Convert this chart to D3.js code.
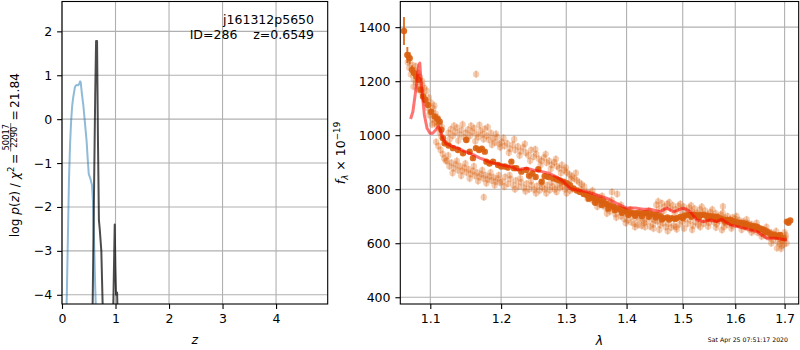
<!DOCTYPE html>
<html>
<head>
<meta charset="utf-8">
<script src="https://cdn.jsdelivr.net/npm/d3@7"></script>
<style>
body { margin: 0; background: #fff; }
svg { font-family: "DejaVu Sans", sans-serif; }
</style>
</head>
<body>
<svg id="chart" width="800" height="350"></svg>
<script>
// ---- left panel: log p(z)
const pzTicksX = [0, 1, 2, 3, 4];
const pzTicksY = [2, 1, 0, -1, -2, -3, -4];
const priorZ = [0.07, 0.09, 0.11, 0.13, 0.15, 0.17, 0.19, 0.21, 0.24, 0.26, 0.28, 0.30, 0.32, 0.34, 0.35, 0.37, 0.40, 0.43, 0.46, 0.48, 0.50, 0.53, 0.56, 0.58, 0.60, 0.62, 0.64];
const priorLogP = [-5.0, -4.0, -2.7, -1.4, -0.6, -0.05, 0.3, 0.5, 0.72, 0.77, 0.78, 0.77, 0.8, 0.86, 0.84, 0.6, 0.3, -0.1, -0.5, -0.9, -1.25, -1.35, -1.5, -1.9, -2.8, -3.8, -4.6];
const fitZ = [0.55, 0.575, 0.60, 0.62, 0.637, 0.655, 0.672, 0.69, 0.705, 0.735, 0.765, 0.80, 0.92, 0.955, 0.985, 0.998, 1.01, 1.03, 1.045, 1.08];
const fitLogP = [-6, -4.0, -1.5, 0.5, 1.78, 1.78, -0.5, -2.3, -2.5, -3.0, -4.5, -8, -8, -4.5, -2.4, -3.4, -4.0, -3.95, -4.8, -8];
const objName = "j161312p5650";
const objInfo = "ID=286\u00a0\u00a0\u00a0\u00a0z=0.6549";

// ---- right panel: spectrum
const specTicksX = [1.1, 1.2, 1.3, 1.4, 1.5, 1.6, 1.7];
const specTicksY = [400, 600, 800, 1000, 1200, 1400];
const lightErr = 14;
const lightSpec = [
  [1.070,1270],[1.072,1250],[1.074,1225],[1.076,1260],[1.078,1205],[1.079,1240],[1.081,1195],[1.083,1230],[1.085,1180],[1.086,1215],
  [1.088,1160],[1.089,1200],[1.091,1150],[1.092,1175],[1.094,1120],[1.095,1165],[1.097,1100],[1.098,1140],[1.100,1085],[1.101,1120],
  [1.103,1060],[1.104,1100],[1.106,1045],[1.107,1080],[1.109,1035],[1.110,1065],[1.112,1040],[1.113,1010],[1.115,995],[1.116,1030],
  [1.108,975],[1.111,960],[1.114,945],[1.117,930],[1.119,915],[1.121,905],
  [1.0715,1290],[1.0775,1180],[1.0805,1255],[1.0835,1170],[1.0895,1185],[1.0925,1130],[1.0985,1075],[1.1025,1040],[1.1055,1110],[1.1085,1050],
  [1.125,1008],[1.128,1022],[1.131,998],[1.134,1012],[1.137,1028],[1.140,1003],[1.143,1018],[1.146,993],[1.149,1008],[1.152,1020],
  [1.155,998],[1.158,1013],[1.161,1026],[1.164,1003],[1.167,993],[1.170,1016],[1.173,1003],[1.176,1023],[1.179,998],[1.182,983],
  [1.185,1008],[1.188,988],[1.191,973],[1.194,993],[1.197,968],
  [1.1265,985],[1.1325,1035],[1.1385,980],[1.1445,1040],[1.1505,985],[1.1565,1035],[1.1625,978],[1.1685,1038],[1.1745,985],[1.1805,1030],
  [1.1865,965],[1.1925,1005],[1.1985,955],
  [1.123,905],[1.126,885],[1.129,898],[1.132,878],[1.135,892],[1.138,870],[1.141,885],[1.144,868],[1.147,880],[1.150,862],
  [1.153,874],[1.156,856],[1.159,868],[1.162,850],[1.165,862],[1.168,845],[1.171,856],[1.174,840],[1.177,852],[1.180,836],
  [1.183,848],[1.186,832],[1.189,844],[1.192,828],[1.195,840],[1.198,825],
  [1.1245,925],[1.1305,860],[1.1365,905],[1.1425,850],[1.1485,895],[1.1545,840],[1.1605,885],[1.1665,830],[1.1725,870],[1.1785,822],
  [1.1845,862],[1.1905,815],[1.1965,852],
  [1.1637,1226],[1.1747,770],
  [1.201,975],[1.205,960],[1.209,970],[1.213,950],[1.217,965],[1.221,945],[1.225,958],[1.229,940],[1.233,955],[1.237,935],
  [1.241,925],[1.245,945],[1.249,920],[1.253,930],[1.257,912],[1.261,905],[1.265,918],[1.269,898],[1.273,905],[1.277,890],
  [1.281,900],[1.285,885],[1.289,878],[1.293,890],[1.297,870],[1.301,862],[1.305,855],[1.309,848],[1.313,840],[1.317,832],
  [1.321,825],[1.325,818],[1.329,810],
  [1.2035,990],[1.2115,935],[1.2195,985],[1.2275,925],[1.2355,968],[1.2435,905],[1.2515,948],[1.2595,890],[1.2675,930],[1.2755,875],
  [1.2835,912],[1.2915,860],[1.2995,880],[1.3075,838],[1.3155,860],[1.3235,800],
  [1.202,828],[1.206,845],[1.210,820],[1.214,838],[1.218,815],[1.222,832],[1.226,810],[1.230,826],[1.234,805],[1.238,820],
  [1.242,800],[1.246,815],[1.250,798],[1.254,812],[1.258,795],[1.262,808],[1.266,800],[1.270,815],[1.274,797],[1.278,810],
  [1.282,800],[1.286,815],[1.290,805],[1.294,812],[1.298,800],[1.302,808],[1.306,795],[1.310,802],
  [1.2045,810],[1.2125,852],[1.2205,800],[1.2285,840],[1.2365,792],[1.2445,830],[1.2525,785],[1.2605,822],[1.2685,785],[1.2765,825],
  [1.2845,790],[1.2925,825],[1.3005,785],
  [1.333,790],[1.336,770],[1.339,785],[1.342,760],[1.345,778],[1.348,752],[1.351,770],[1.354,745],[1.357,762],[1.360,738],
  [1.363,755],[1.366,728],[1.369,745],[1.372,718],[1.375,790],[1.378,735],[1.381,708],[1.384,782],[1.387,725],[1.390,700],
  [1.393,718],[1.396,690],[1.399,712],[1.402,685],[1.405,705],[1.408,678],[1.411,700],[1.414,672],[1.417,695],[1.420,668],
  [1.423,690],[1.426,665],[1.429,685],[1.432,660],[1.435,680],[1.438,700],[1.441,662],[1.444,690],[1.447,655],[1.450,685],
  [1.3345,765],[1.3425,795],[1.3505,735],[1.3585,775],[1.3665,710],[1.3745,760],[1.3825,695],[1.3905,742],[1.3985,675],[1.4065,725],
  [1.4145,660],[1.4225,715],[1.4305,675],[1.4385,720],[1.4465,670],
  [1.452,742],[1.457,728],[1.462,748],[1.467,735],[1.472,745],[1.477,730],[1.482,740],[1.487,725],[1.492,738],[1.497,722],
  [1.502,735],[1.507,720],[1.512,732],[1.517,718],[1.522,728],[1.527,712],[1.532,725],[1.537,710],[1.542,720],[1.547,706],
  [1.552,715],[1.557,700],[1.562,710],[1.567,696],[1.572,705],[1.576,736],[1.580,694],[1.585,700],[1.590,688],[1.595,695],
  [1.454,682],[1.459,668],[1.464,675],[1.469,660],[1.474,672],[1.479,658],[1.484,666],[1.489,652],[1.494,670],[1.499,680],
  [1.504,690],[1.509,672],[1.514,685],[1.519,665],[1.524,678],[1.529,668],[1.534,682],[1.539,672],[1.544,685],[1.549,676],
  [1.554,688],[1.559,678],[1.564,670],[1.569,682],[1.574,649],[1.579,675],[1.584,668],[1.589,678],[1.594,665],
  [1.4555,755],[1.4655,720],[1.4755,752],[1.4855,710],[1.4955,745],[1.5055,705],[1.5155,740],[1.5255,700],[1.5355,735],[1.5455,695],
  [1.5555,725],[1.5655,688],[1.5755,712],[1.5855,680],[1.4575,650],[1.4725,645],[1.4875,660],[1.5025,655],[1.5175,650],[1.5325,660],
  [1.5475,662],[1.5625,658],[1.5775,660],[1.5925,655],
  [1.600,690],[1.604,672],[1.608,685],[1.612,665],[1.616,680],[1.620,660],[1.624,675],[1.628,652],[1.632,670],[1.636,648],
  [1.640,662],[1.644,640],[1.648,655],[1.652,636],[1.656,650],[1.660,628],[1.664,645],[1.668,620],[1.672,640],[1.676,612],
  [1.680,632],[1.684,582],[1.686,605],[1.688,625],[1.690,598],[1.692,615],[1.694,590],[1.696,610],[1.698,595],[1.700,640],
  [1.702,620],[1.704,600],
  [1.6025,700],[1.6125,650],[1.6225,688],[1.6325,640],[1.6425,675],[1.6525,625],[1.6625,660],[1.6725,600],[1.6825,645],[1.6925,580],
  [1.7025,630]
];
// binned spectrum: [wave, flux, err]
const darkSpec = [
  [1.065,1386,52],[1.0694,1297,30],[1.0725,1285,22],[1.0755,1242,16],[1.0782,1230,12],[1.0813,1217,10],[1.0844,1205,10],[1.0871,1168,9],
  [1.0902,1143,9],[1.0933,1131,8],[1.0969,1112,8],[1.1013,1087,8],[1.1060,1069,8],[1.1100,1060,8],[1.1128,1050,8],[1.1150,1020,8],
  [1.1173,989,8],[1.1196,970,8],[1.1250,962,7],[1.1311,952,7],[1.1380,945,7],[1.1451,933,7],[1.1497,982,7],[1.1545,939,7],
  [1.1592,915,7],[1.1635,952,7],[1.1680,945,7],[1.1720,950,7],[1.1762,939,7],[1.1785,902,7],[1.1830,895,7],[1.1882,902,7],
  [1.1955,890,7],[1.2000,884,7],[1.2054,884,7],[1.2100,880,7],[1.2152,902,7],[1.2190,878,7],[1.2227,878,7],[1.2302,865,7],
  [1.2378,871,7],[1.2420,850,7],[1.2470,858,7],[1.2520,845,7],[1.2562,874,7],[1.2614,828,7],[1.2660,848,7],[1.2720,845,7],
  [1.2798,840,7],[1.2850,836,7],[1.2900,832,7],[1.2956,828,7],[1.3010,822,7],[1.3060,815,7],[1.3116,803,7],[1.3170,795,7],
  [1.3220,790,7],[1.3280,782,7],[1.3334,779,7],[1.3390,772,7],[1.3442,767,7],[1.3500,762,7],[1.3550,758,7],[1.3609,754,7],
  [1.3660,745,7],[1.3720,740,7],[1.3777,735,7],[1.3830,730,7],[1.3890,726,7],[1.3947,723,7],[1.4000,718,7],[1.4060,714,7],
  [1.4120,711,7],[1.4180,712,7],[1.4240,710,7],[1.4300,711,7],[1.4354,711,7],[1.4420,709,7],[1.4480,706,7],[1.4531,705,7],
  [1.4600,700,7],[1.4650,693,7],[1.4720,695,7],[1.4800,693,7],[1.4893,693,7],[1.4960,698,7],[1.5030,702,7],[1.5100,705,7],
  [1.5139,705,7],[1.5200,706,7],[1.5260,705,7],[1.5330,704,7],[1.5388,705,7],[1.5450,702,7],[1.5520,700,7],[1.5580,698,7],
  [1.5644,698,7],[1.5710,692,7],[1.5770,688,7],[1.5840,686,7],[1.5902,686,7],[1.5960,682,7],[1.6030,678,7],[1.6100,676,7],
  [1.6164,674,7],[1.6230,670,7],[1.6300,666,7],[1.6370,663,7],[1.6432,661,7],[1.6500,655,7],[1.6570,650,7],[1.6640,643,7],
  [1.6700,636,7],[1.6780,632,7],[1.6850,628,7],[1.6909,631,7],[1.6978,618,7],[1.7049,680,7],[1.7080,676,7],[1.7118,684,7],
  [1.3365,765,7],[1.3470,750,7],[1.3580,742,7],[1.3690,728,7],[1.3800,722,7],[1.3920,712,7],[1.4030,705,7],[1.4150,702,7],
  [1.4270,700,7],[1.4390,698,7],[1.4510,695,7],[1.4620,688,7],[1.4750,688,7],[1.4860,690,7],[1.5000,693,7],[1.5160,698,7],
  [1.5300,696,7],[1.5480,692,7],[1.5620,688,7],[1.5800,680,7],[1.5930,676,7],[1.6060,670,7],[1.6200,664,7],[1.6340,657,7],
  [1.6470,650,7],[1.6600,640,7],[1.6730,628,7],[1.6830,625,7]
];
const modelSpec = [
  [1.0737,1060],[1.0767,1087],[1.0797,1149],[1.0824,1211],[1.0846,1260],[1.0859,1267],[1.0876,1199],[1.0898,1137],[1.0920,1075],
  [1.0956,1026],[1.0996,1007],[1.1032,1007],[1.1077,1020],[1.1109,1032],[1.1136,1020],[1.1168,989],[1.1212,970],[1.1290,960],
  [1.1380,952],[1.1460,942],[1.1545,933],[1.1620,925],[1.1690,915],[1.1750,910],[1.1810,902],[1.1900,896],[1.2000,890],
  [1.2080,886],[1.2150,884],[1.2250,871],[1.2320,876],[1.2380,878],[1.2480,871],[1.2600,866],[1.2730,859],[1.2850,845],
  [1.2960,828],[1.3060,803],[1.3170,797],[1.3330,791],[1.3490,779],[1.3660,767],[1.3830,748],[1.4000,730],[1.4170,730],
  [1.4290,726],[1.4413,726],[1.4591,717],[1.4711,730],[1.4831,717],[1.5014,730],[1.5139,717],[1.5264,686],[1.5388,680],
  [1.5516,686],[1.5644,680],[1.5741,689],[1.5902,668],[1.6164,656],[1.6432,643],[1.6635,618],[1.6841,618],[1.7049,612]
];
const stamp = "Sat Apr 25 07:51:17 2020";

const svg = d3.select("#chart");
const fs = 12.5;
const gridColor = "#b0b0b0";
const orange = "#d95f0e";

const L = {x0: 62, x1: 327.7, y0: 1.5, y1: 304};
const R = {x0: 400.3, x1: 798.7, y0: 1.5, y1: 304};

let xZ = d3.scaleLinear().domain([0, 4.965]).range([L.x0, L.x1]);
let yZ = d3.scaleLinear().domain([-4.21, 2.68]).range([L.y1, L.y0]);
let xW = d3.scaleLog().domain([1.0602, 1.7297]).range([R.x0, R.x1]);
let yF = d3.scaleLinear().domain([375, 1495]).range([R.y1, R.y0]);

function clip(id, b) {
    svg.append("clipPath").attr("id", id)
        .append("rect").attr("x", b.x0).attr("y", b.y0)
        .attr("width", b.x1 - b.x0).attr("height", b.y1 - b.y0);
}
clip("clipL", L);
clip("clipR", R);

function grid(b, xs, ys, tx, ty) {
    let g = svg.append("g").attr("stroke", gridColor).attr("stroke-width", 1.1);
    g.selectAll(".gx").data(tx).enter().append("line")
        .attr("x1", (d) => xs(d)).attr("x2", (d) => xs(d))
        .attr("y1", b.y0).attr("y2", b.y1);
    g.selectAll(".gy").data(ty).enter().append("line")
        .attr("y1", (d) => ys(d)).attr("y2", (d) => ys(d))
        .attr("x1", b.x0).attr("x2", b.x1);
}
grid(L, xZ, yZ, pzTicksX, pzTicksY);
grid(R, xW, yF, specTicksX, specTicksY);

function axes(b, xs, ys, tx, ty, fx, fy) {
    let ax = svg.append("g").attr("transform", `translate(0,${b.y1})`)
        .call(d3.axisBottom(xs).tickValues(tx).tickFormat(fx).tickSize(4.9).tickPadding(4.9));
    let ay = svg.append("g").attr("transform", `translate(${b.x0},0)`)
        .call(d3.axisLeft(ys).tickValues(ty).tickFormat(fy).tickSize(4.9).tickPadding(4.9));
    [ax, ay].forEach(function(a) {
        a.attr("font-size", fs).attr("font-family", "DejaVu Sans");
        a.select(".domain").remove();
        a.selectAll(".tick line").attr("stroke", "#000").attr("stroke-width", 1.1);
        a.selectAll(".tick text").attr("fill", "#000");
    });
}
axes(L, xZ, yZ, pzTicksX, pzTicksY, d3.format("d"), d3.format("d"));
axes(R, xW, yF, specTicksX, specTicksY, d3.format(".1f"), d3.format("d"));

// p(z) curves
let lineZ = d3.line().x((d) => xZ(d[0])).y((d) => yZ(d[1]));
let gL = svg.append("g").attr("clip-path", "url(#clipL)");
gL.append("path").datum(priorZ.map((z, i) => [z, priorLogP[i]]))
    .attr("d", lineZ).attr("fill", "none")
    .attr("stroke", "#1f77b4").attr("stroke-opacity", 0.5).attr("stroke-width", 2)
    .attr("stroke-linejoin", "round");
gL.append("path").datum(fitZ.map((z, i) => [z, fitLogP[i]]))
    .attr("d", lineZ).attr("fill", "none")
    .attr("stroke", "#000").attr("stroke-opacity", 0.7).attr("stroke-width", 2)
    .attr("stroke-linejoin", "round");

// spectrum
let gR = svg.append("g").attr("clip-path", "url(#clipR)");
gR.selectAll("line.light").data(lightSpec).enter().append("line")
    .attr("class", "light")
    .attr("x1", (d) => xW(d[0])).attr("x2", (d) => xW(d[0]))
    .attr("y1", (d) => yF(d[1] - lightErr)).attr("y2", (d) => yF(d[1] + lightErr))
    .attr("stroke", orange).attr("stroke-opacity", 0.28).attr("stroke-width", 1.5);
gR.selectAll("circle.light").data(lightSpec).enter().append("circle")
    .attr("class", "light")
    .attr("cx", (d) => xW(d[0])).attr("cy", (d) => yF(d[1])).attr("r", 3.2)
    .attr("fill", orange).attr("fill-opacity", 0.3);

gR.selectAll("line.dark").data(darkSpec).enter().append("line")
    .attr("class", "dark")
    .attr("x1", (d) => xW(d[0])).attr("x2", (d) => xW(d[0]))
    .attr("y1", (d) => yF(d[1] - d[2])).attr("y2", (d) => yF(d[1] + d[2]))
    .attr("stroke", orange).attr("stroke-opacity", 0.85).attr("stroke-width", 2);
gR.selectAll("circle.dark").data(darkSpec).enter().append("circle")
    .attr("class", "dark")
    .attr("cx", (d) => xW(d[0])).attr("cy", (d) => yF(d[1])).attr("r", 3.2)
    .attr("fill", orange).attr("fill-opacity", 0.9);

gR.append("path").datum(modelSpec)
    .attr("d", d3.line().x((d) => xW(d[0])).y((d) => yF(d[1])))
    .attr("fill", "none").attr("stroke", "red").attr("stroke-opacity", 0.55)
    .attr("stroke-width", 3).attr("stroke-linejoin", "round");

// spines
[L, R].forEach(function(b) {
    svg.append("rect").attr("x", b.x0).attr("y", b.y0)
        .attr("width", b.x1 - b.x0).attr("height", b.y1 - b.y0)
        .attr("fill", "none").attr("stroke", "#000").attr("stroke-width", 1.1);
});

// annotations
svg.append("text").attr("x", 314).attr("y", 23.5).attr("text-anchor", "end")
    .attr("font-size", fs).text(objName);
svg.append("text").attr("x", 314).attr("y", 39).attr("text-anchor", "end")
    .attr("font-size", fs).text(objInfo);

// x labels
svg.append("text").attr("x", (L.x0 + L.x1) / 2).attr("y", 344).attr("text-anchor", "middle")
    .attr("font-size", fs).attr("font-style", "italic").text("z");
svg.append("text").attr("x", (R.x0 + R.x1) / 2).attr("y", 345).attr("text-anchor", "middle")
    .attr("font-size", fs).attr("font-style", "italic").text("λ");

// left y label with fraction
let yl = svg.append("g").attr("transform", "translate(18.5,155) rotate(-90)");
let inner = yl.append("g");
let t1 = inner.append("text").attr("font-size", 12.2);
t1.append("tspan").text("log ");
t1.append("tspan").attr("font-style", "italic").text("p");
t1.append("tspan").text("(");
t1.append("tspan").attr("font-style", "italic").text("z");
t1.append("tspan").text(") / ");
t1.append("tspan").attr("font-style", "italic").text("χ");
t1.append("tspan").attr("font-size", 8.6).attr("dy", -5).text("2");
t1.append("tspan").attr("dy", 5).text("\u2009=\u2009");
let num = inner.append("text").attr("font-size", 8.3).attr("text-anchor", "middle").attr("y", -9.3).text("50017");
let den = inner.append("text").attr("font-size", 8.3).attr("text-anchor", "middle").attr("y", -1.6).text("2290");
let t2 = inner.append("text").attr("font-size", 12.2).text("\u2009=\u200921.84");
let w1 = t1.node().getBBox().width;
let wf = Math.max(num.node().getBBox().width, den.node().getBBox().width) + 2;
t1.attr("x", 0);
num.attr("x", w1 + wf / 2);
den.attr("x", w1 + wf / 2);
inner.append("line").attr("x1", w1).attr("x2", w1 + wf)
    .attr("y1", -7.8).attr("y2", -7.8).attr("stroke", "#000").attr("stroke-width", 0.6);
t2.attr("x", w1 + wf);
let bb = inner.node().getBBox();
let sc = Math.min(1, 186 / bb.width);
inner.attr("transform", `scale(${sc}) translate(${-(bb.x + bb.width / 2)},0)`);

// right y label
let yr = svg.append("g").attr("transform", "translate(345,153) rotate(-90)");
let t3 = yr.append("text").attr("font-size", fs).attr("text-anchor", "middle");
t3.append("tspan").attr("font-style", "italic").text("f");
t3.append("tspan").attr("font-size", 8.8).attr("font-style", "italic").attr("dy", 2.5).text("λ");
t3.append("tspan").attr("dy", -2.5).text("\u00a0×\u00a010");
t3.append("tspan").attr("font-size", 8.8).attr("dy", -5).text("−19");

// timestamp
svg.append("text").attr("x", 788).attr("y", 341.5).attr("text-anchor", "end")
    .attr("font-size", 6.2).text(stamp);
</script>
</body>
</html>
